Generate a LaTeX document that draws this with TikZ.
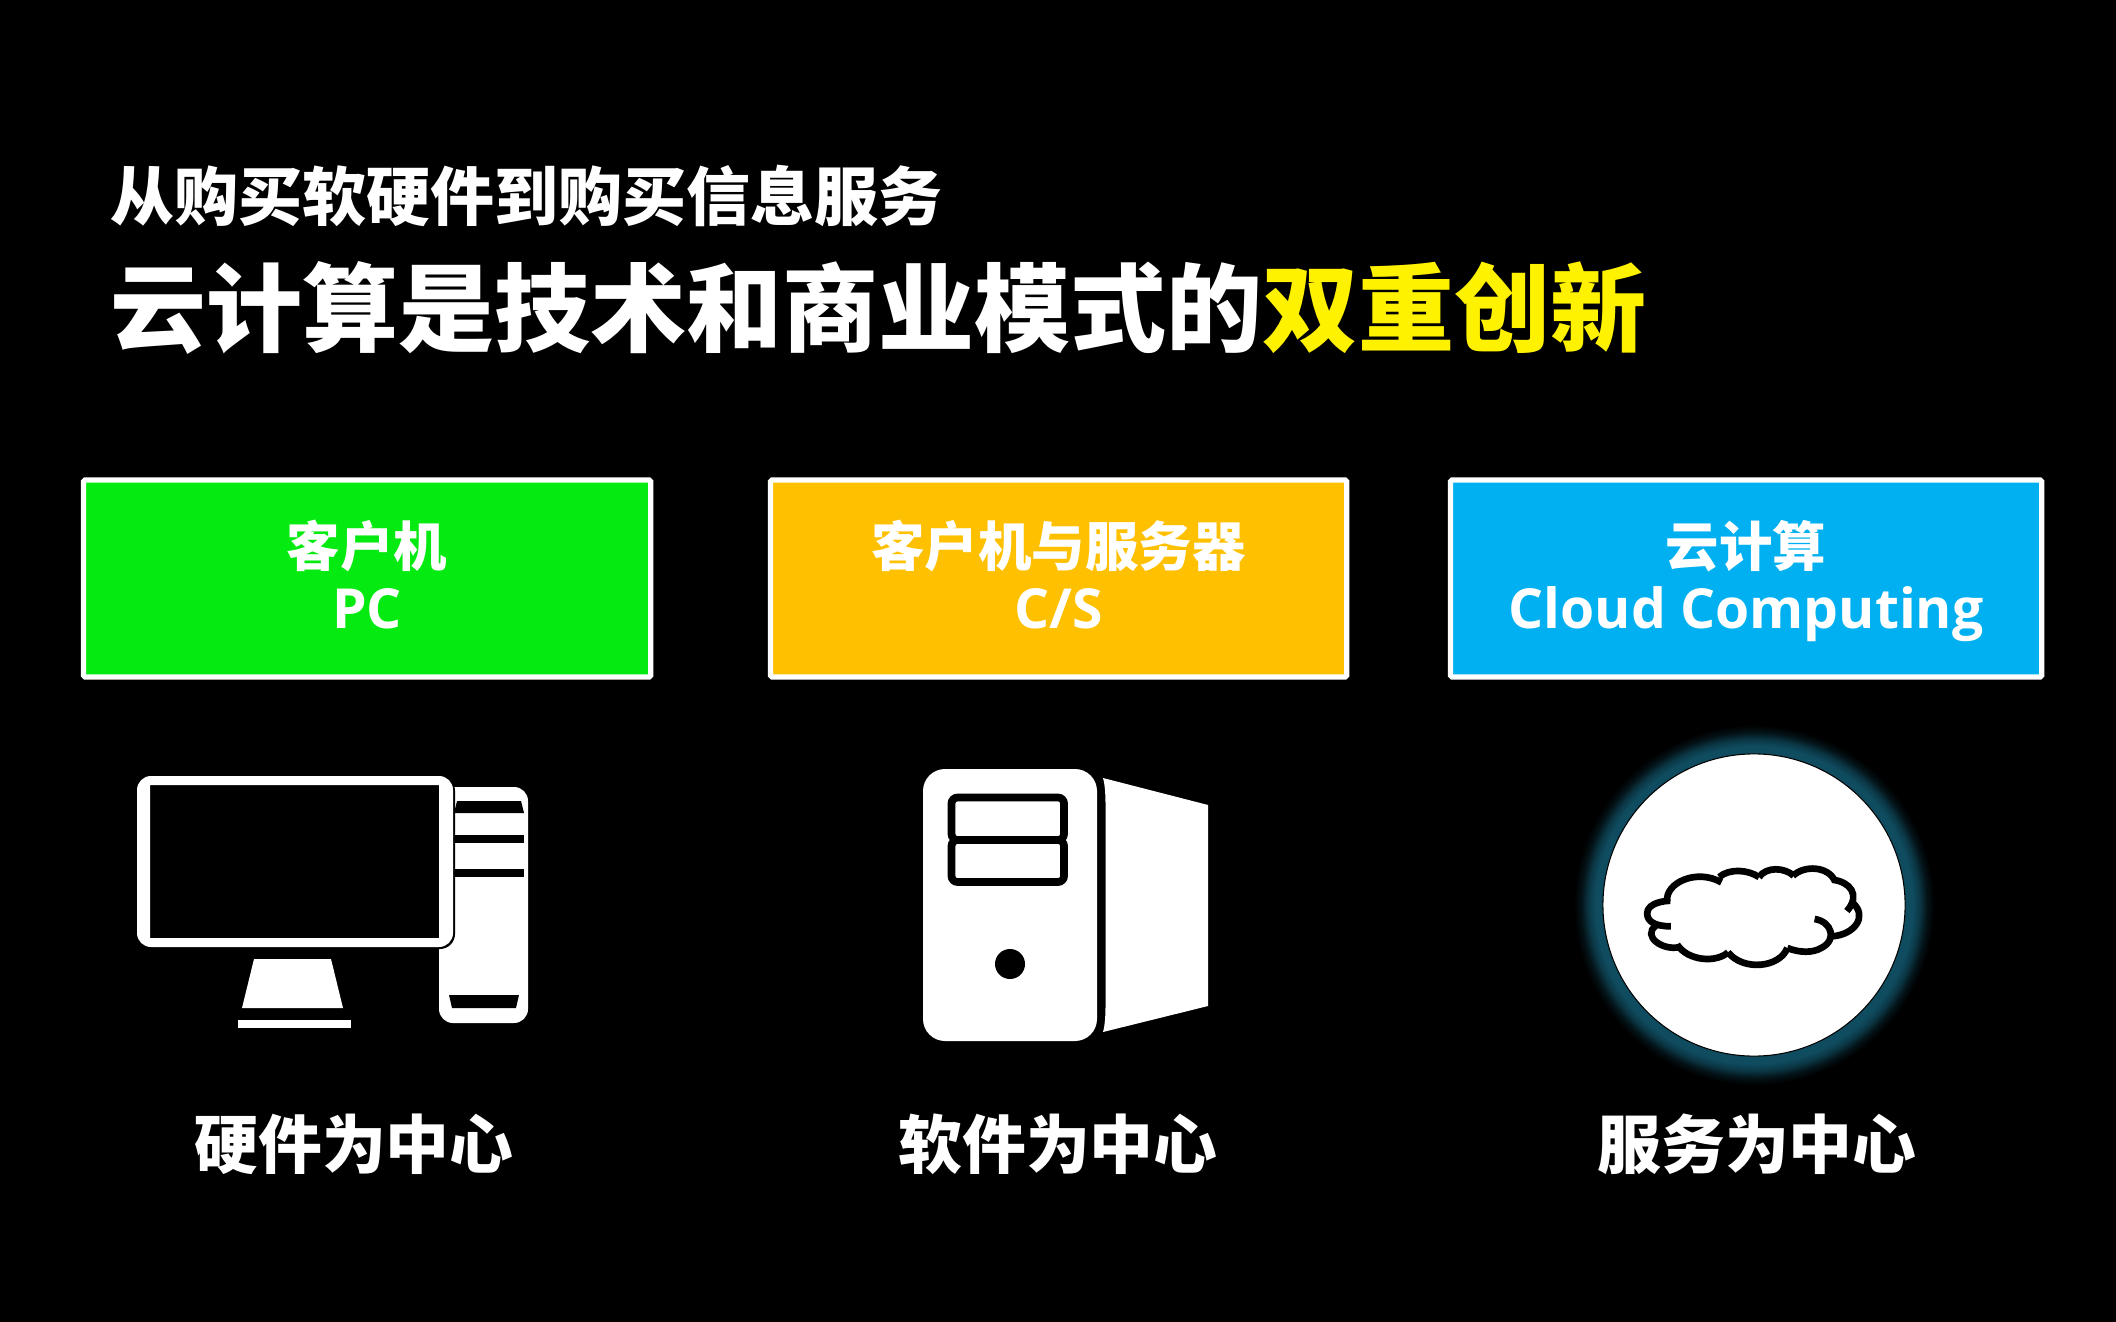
\documentclass[tikz,border=0pt]{standalone}
\usepackage{fontspec}
\setmainfont{Noto Sans CJK SC}
\newfontfamily\latinfont{Open Sans}
\definecolor{boxgreen}{HTML}{05EB12}
\definecolor{boxorange}{HTML}{FFC000}
\definecolor{boxblue}{HTML}{00B0F0}
\definecolor{haloteal}{HTML}{0F4C60}
\pgfdeclareradialshading{halofade}{\pgfpoint{0bp}{0bp}}{color(0bp)=(haloteal); color(22bp)=(haloteal); color(23bp)=(haloteal!72!black); color(24bp)=(haloteal!25!black); color(25bp)=(black); color(50bp)=(black)}
\tikzset{
    titletext/.style={text=white, font=\bfseries, anchor=west, inner sep=0pt},
    modelbox/.style={draw=white, line width=1.5pt, rounded corners=0.5pt, anchor=north west, inner sep=0pt,
        minimum height=1.97cm},
    boxlabel/.style={text=white, align=center, inner sep=0pt, yshift=-0.027cm,
        font=\fontsize{15.2}{17.5}\selectfont\bfseries,
        execute at end node={\rule[-3.8pt]{0pt}{0pt}}},
    centretext/.style={text=white, inner sep=0pt, font=\fontsize{18.15}{20}\selectfont\bfseries},
    cloudline/.style={black, line width=1.9pt}
}
\newcommand{\latinlabel}[1]{{\latinfont\fontsize{15.7}{17.5}\selectfont #1}}
\begin{document}
\begin{tikzpicture}[x=0.01cm, y=-0.01cm]

    \fill[black] (0,0) rectangle (2116,1322);

    % headings
    \node[titletext, font=\fontsize{18.2}{20}\selectfont\bfseries] (subtitle) at (110,196) {从购买软硬件到购买信息服务};
    \node[titletext, font=\fontsize{27.3}{30}\selectfont\bfseries] (maintitle) at (110,308)
        {云计算是技术和商业模式的\textcolor{yellow}{双重创新}};

    % the three boxes
    \node[modelbox, fill=boxgreen, minimum width=5.67cm] (pcbox) at (80.8,477.3) {};
    \node[boxlabel] (pclabel) at (pcbox.center) {客户机\\\latinlabel{PC}};
    \node[modelbox, fill=boxorange, minimum width=5.76cm] (csbox) at (767.8,477.3) {};
    \node[boxlabel] (cslabel) at (csbox.center) {客户机与服务器\\\latinlabel{C/S}};
    \node[modelbox, fill=boxblue, minimum width=5.91cm] (cloudbox) at (1447.8,477.3) {};
    \node[boxlabel] (cloudlabel) at (cloudbox.center) {云计算\\\latinlabel{Cloud Computing}};

    % tower next to the monitor
    \fill[white, rounded corners=0.14cm] (439,787) rectangle (528,1023);
    \fill[black] (457,801) -- (521,801) -- (524,813) -- (454,813) -- cycle;
    \fill[black] (454,835) rectangle (524,843);
    \fill[black] (454,869) rectangle (524,877);
    \fill[black] (449,995) -- (519,995) -- (516,1008) -- (452,1008) -- cycle;

    % monitor
    \fill[black, rounded corners=0.15cm] (137,776) rectangle (455,949);
    \fill[white, even odd rule, rounded corners=0.14cm] (137,776) rectangle (453,947)
        [sharp corners] (150,785) rectangle (439,938);
    \fill[white] (254,959) -- (331,959) -- (343,1008) -- (242,1008) -- cycle;
    \fill[white] (238,1020) rectangle (351,1028);

    % server
    \fill[white, rounded corners=0.22cm] (923,769) rectangle (1097,1041);
    \draw[black, line width=2.2pt, rounded corners=0.06cm] (951.5,797.5) rectangle (1064,840);
    \draw[black, line width=2.2pt, rounded corners=0.06cm] (951.5,840) rectangle (1064,882);
    \fill[black] (1010,964) circle (0.15cm);
    \fill[white] (1103,778) -- (1208,805) -- (1208,1006) -- (1103,1032)
        .. controls (1105,1025) and (1105.5,1015) .. (1105.5,1005) -- (1105.5,805)
        .. controls (1105.5,795) and (1105,785) .. (1103,778) -- cycle;

    % halo, white disc
    \shade[shading=halofade] (1754,905) circle (1.80cm);
    \draw[black, fill=white, line width=0.3pt] (1754,905) circle (1.51cm);

    % cloud, in coordinates of a 3x crop
    \begin{scope}[shift={(1560,720)}, x=0.003333cm, y=-0.003333cm]
        \draw[cloudline] (333,620) .. controls (285,620) and (262,605) .. (262,582)
            .. controls (262,558) and (290,545) .. (331,543);
        \draw[cloudline] (322,545) .. controls (315,490) and (410,445) .. (485,488);
        \draw[cloudline] (478,472) .. controls (510,445) and (565,450) .. (598,472);
        \draw[cloudline] (598,472) .. controls (620,440) and (675,443) .. (702,468);
        \draw[cloudline] (700,468) .. controls (735,435) and (805,440) .. (825,482);
        \draw[cloudline] (818,480) .. controls (870,485) and (905,525) .. (862,574);
        \draw[cloudline] (880,550) .. controls (925,590) and (885,645) .. (818,650);
        \draw[cloudline] (765,598) .. controls (815,605) and (835,660) .. (785,685)
            .. controls (760,700) and (720,700) .. (683,685);
        \draw[cloudline] (683,685) .. controls (660,745) and (550,755) .. (505,698);
        \draw[cloudline] (505,698) .. controls (470,730) and (385,725) .. (352,675);
        \draw[cloudline] (360,682) .. controls (310,695) and (245,650) .. (288,618);
    \end{scope}

    % captions
    \node[centretext] (hwcap) at (354,1144) {硬件为中心};
    \node[centretext] (swcap) at (1058,1144) {软件为中心};
    \node[centretext] (svcap) at (1757,1144) {服务为中心};

\end{tikzpicture}
\end{document}
